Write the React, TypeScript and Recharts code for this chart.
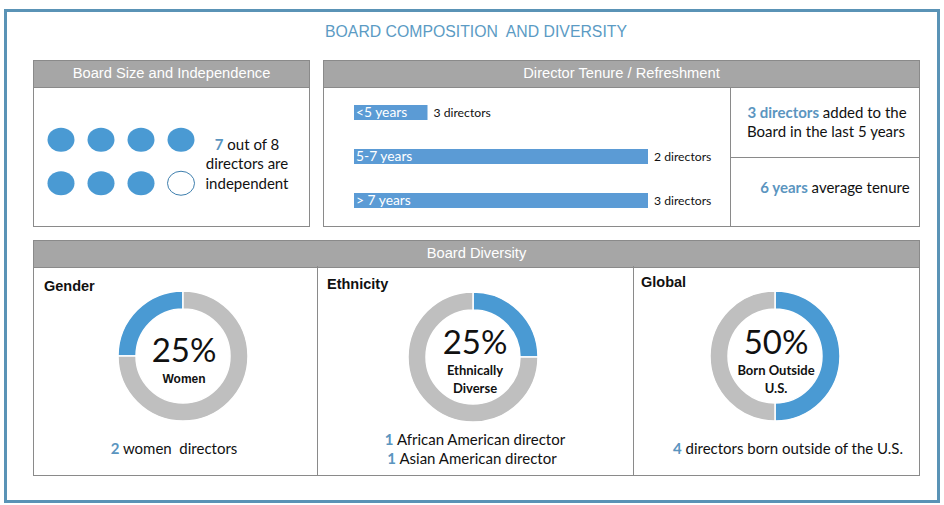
import React from "react";
import {
  BarChart,
  Bar,
  XAxis,
  YAxis,
  LabelList,
  PieChart,
  Pie,
  Cell,
  ScatterChart,
  Scatter,
} from "recharts";

// board independence: 1 = independent director
const directorIndependent = [1, 1, 1, 1, 1, 1, 1, 0];

// tenure bands
const tenureBands = ["<5 years", "5-7 years", "> 7 years"];
const tenureBarLengths = [1, 4, 4];
const tenureCounts = [3, 2, 3];

// diversity donuts
const diversityTitles = ["Gender", "Ethnicity", "Global"];
const diversityPercents = [25, 25, 50];
const diversityLabels = [["Women"], ["Ethnically", "Diverse"], ["Born Outside", "U.S."]];

const BLUE = "#4a9ad3";
const BAR_BLUE = "#5b9bd5";
const GRAY = "#bfbfbf";
const HEAD = "#a6a6a6";
const LINE = "#8a8a8a";
const ACCENT = "#5b95bf";
const CAL = "Lato, 'Open Sans', sans-serif";
const ARIAL = "'Liberation Sans', Arial, sans-serif";

const seats = directorIndependent.map((v, i) => ({
  col: (i % 4) + 1,
  row: 2 - Math.floor(i / 4),
  independent: v,
}));

const tenureData = tenureBands.map((band, i) => ({
  band,
  length: tenureBarLengths[i],
  countLabel: `${tenureCounts[i]} directors`,
}));

function T({ x, y, children, style, left }: { x: number; y: number; children: React.ReactNode; style?: React.CSSProperties; left?: boolean }) {
  return (
    <div
      style={{
        position: "absolute",
        left: x,
        top: y,
        transform: left ? "translate(0, -50%)" : "translate(-50%, -50%)",
        whiteSpace: "nowrap",
        fontFamily: CAL,
        fontSize: 14.7,
        color: "#111",
        lineHeight: 1,
        ...style,
      }}
    >
      {children}
    </div>
  );
}

function Box({ left, top, width, height, title }: { left: number; top: number; width: number; height: number; title?: string }) {
  return (
    <div
      style={{
        position: "absolute",
        left,
        top,
        width,
        height,
        boxSizing: "border-box",
        border: `1px solid ${LINE}`,
        background: "#fff",
      }}
    >
      {title && (
        <div
          style={{
            height: 26,
            background: HEAD,
            borderBottom: `1px solid ${LINE}`,
            color: "#fff",
            fontFamily: ARIAL,
            fontSize: 14.7,
            lineHeight: "24px",
            textAlign: "center",
          }}
        >
          {title}
        </div>
      )}
    </div>
  );
}

const Accent = ({ children }: { children: React.ReactNode }) => (
  <span style={{ color: ACCENT, fontWeight: 700 }}>{children}</span>
);

function renderSeat(props: any) {
  const { cx, cy, payload } = props;
  return (
    <ellipse
      cx={cx}
      cy={cy}
      rx={13.5}
      ry={12}
      fill={payload.independent ? BLUE : "#fff"}
      stroke={payload.independent ? "none" : "#3f7fae"}
      strokeWidth={1}
    />
  );
}

const donutCenters = [
  { x: 183, y: 356 },
  { x: 473, y: 357 },
  { x: 775, y: 356 },
];

const titleSpots = [
  { x: 44, y: 286 },
  { x: 327, y: 284 },
  { x: 641, y: 282 },
];

export default function App() {
  return (
    <div style={{ position: "absolute", left: 0, top: 0, width: 944, height: 505, background: "#fff", overflow: "hidden" }}>
      {/* outer frame */}
      <div
        style={{
          position: "absolute",
          left: 4,
          top: 9,
          width: 936,
          height: 494,
          boxSizing: "border-box",
          border: "3px solid #5a93b6",
        }}
      />
      <T x={476} y={32} style={{ fontFamily: ARIAL, fontSize: 15.8, color: "#5b9bc4" }}>
        BOARD COMPOSITION&nbsp; AND DIVERSITY
      </T>

      {/* board size */}
      <Box left={33} top={60} width={277} height={167} title="Board Size and Independence" />
      <div style={{ position: "absolute", left: 41, top: 118 }}>
        <ScatterChart width={160} height={87} margin={{ top: 0, right: 0, bottom: 0, left: 0 }}>
          <XAxis type="number" dataKey="col" domain={[0.5, 4.5]} hide />
          <YAxis type="number" dataKey="row" domain={[0.5, 2.5]} hide />
          <Scatter data={seats} shape={renderSeat} isAnimationActive={false} />
        </ScatterChart>
      </div>
      <T x={247} y={144} style={{ fontSize: 15 }}>
        <Accent>7</Accent> out of 8
      </T>
      <T x={247} y={163} style={{ fontSize: 15 }}>directors are</T>
      <T x={247} y={183} style={{ fontSize: 15 }}>independent</T>

      {/* tenure */}
      <Box left={323} top={60} width={597} height={167} title="Director Tenure / Refreshment" />
      <div style={{ position: "absolute", left: 730, top: 87, width: 1, height: 139, background: LINE }} />
      <div style={{ position: "absolute", left: 730, top: 157, width: 189, height: 1, background: LINE }} />
      <div style={{ position: "absolute", left: 354, top: 90 }}>
        <BarChart
          width={370}
          height={132}
          layout="vertical"
          data={tenureData}
          margin={{ top: 0, right: 76, bottom: 0, left: 0 }}
        >
          <XAxis type="number" domain={[0, 4]} hide />
          <YAxis type="category" dataKey="band" hide />
          <Bar dataKey="length" fill={BAR_BLUE} barSize={15} isAnimationActive={false}>
            <LabelList dataKey="band" position="insideLeft" offset={2} fill="#fff" fontSize={13.8} fontFamily={CAL} />
            <LabelList dataKey="countLabel" position="right" offset={6} fill="#111" fontSize={12.2} fontFamily={CAL} />
          </Bar>
        </BarChart>
      </div>
      <T x={827} y={112} style={{ fontSize: 15 }}>
        <Accent>3 directors</Accent> added to the
      </T>
      <T x={826} y={131} style={{ fontSize: 15 }}>Board in the last 5 years</T>
      <T x={835} y={187} style={{ fontSize: 15 }}>
        <Accent>6 years</Accent> average tenure
      </T>

      {/* diversity */}
      <Box left={33} top={240} width={887} height={236} title="Board Diversity" />
      <div style={{ position: "absolute", left: 317, top: 266, width: 1, height: 209, background: LINE }} />
      <div style={{ position: "absolute", left: 633, top: 266, width: 1, height: 209, background: LINE }} />
      {diversityTitles.map((t, i) => (
        <T key={t} left x={titleSpots[i].x} y={titleSpots[i].y} style={{ fontFamily: ARIAL, fontWeight: 700, fontSize: 14.5 }}>
          {t}
        </T>
      ))}

      {diversityPercents.map((p, i) => {
        const c = donutCenters[i];
        const clockwise = i > 0;
        return (
          <div key={i} style={{ position: "absolute", left: c.x - 70, top: c.y - 70 }}>
            <PieChart width={140} height={140} margin={{ top: 0, right: 0, bottom: 0, left: 0 }}>
              <Pie
                data={[
                  { name: "share", value: p },
                  { name: "rest", value: 100 - p },
                ]}
                dataKey="value"
                cx={70}
                cy={70}
                innerRadius={47}
                outerRadius={65}
                startAngle={90}
                endAngle={clockwise ? -270 : 450}
                stroke="#fff"
                strokeWidth={1.5}
                isAnimationActive={false}
              >
                <Cell fill={BLUE} />
                <Cell fill={GRAY} />
              </Pie>
            </PieChart>
          </div>
        );
      })}

      <T x={184} y={349} style={{ fontSize: 33 }}>{diversityPercents[0]}%</T>
      <T x={184} y={379} style={{ fontFamily: ARIAL, fontWeight: 700, fontSize: 12 }}>{diversityLabels[0][0]}</T>

      <T x={475} y={341} style={{ fontSize: 33 }}>{diversityPercents[1]}%</T>
      <T x={475} y={370} style={{ fontWeight: 700, fontSize: 13 }}>{diversityLabels[1][0]}</T>
      <T x={475} y={388} style={{ fontWeight: 700, fontSize: 13 }}>{diversityLabels[1][1]}</T>

      <T x={776} y={341} style={{ fontSize: 33 }}>{diversityPercents[2]}%</T>
      <T x={776} y={370} style={{ fontWeight: 700, fontSize: 13 }}>{diversityLabels[2][0]}</T>
      <T x={776} y={388} style={{ fontWeight: 700, fontSize: 13 }}>{diversityLabels[2][1]}</T>

      <T x={174} y={448} style={{ fontSize: 15 }}>
        <Accent>2</Accent> women&nbsp; directors
      </T>
      <T x={475} y={439} style={{ fontSize: 15 }}>
        <Accent>1</Accent> African American director
      </T>
      <T x={472} y={458} style={{ fontSize: 15 }}>
        <Accent>1</Accent> Asian American director
      </T>
      <T x={788} y={448} style={{ fontSize: 15 }}>
        <Accent>4</Accent> directors born outside of the U.S.
      </T>
    </div>
  );
}
